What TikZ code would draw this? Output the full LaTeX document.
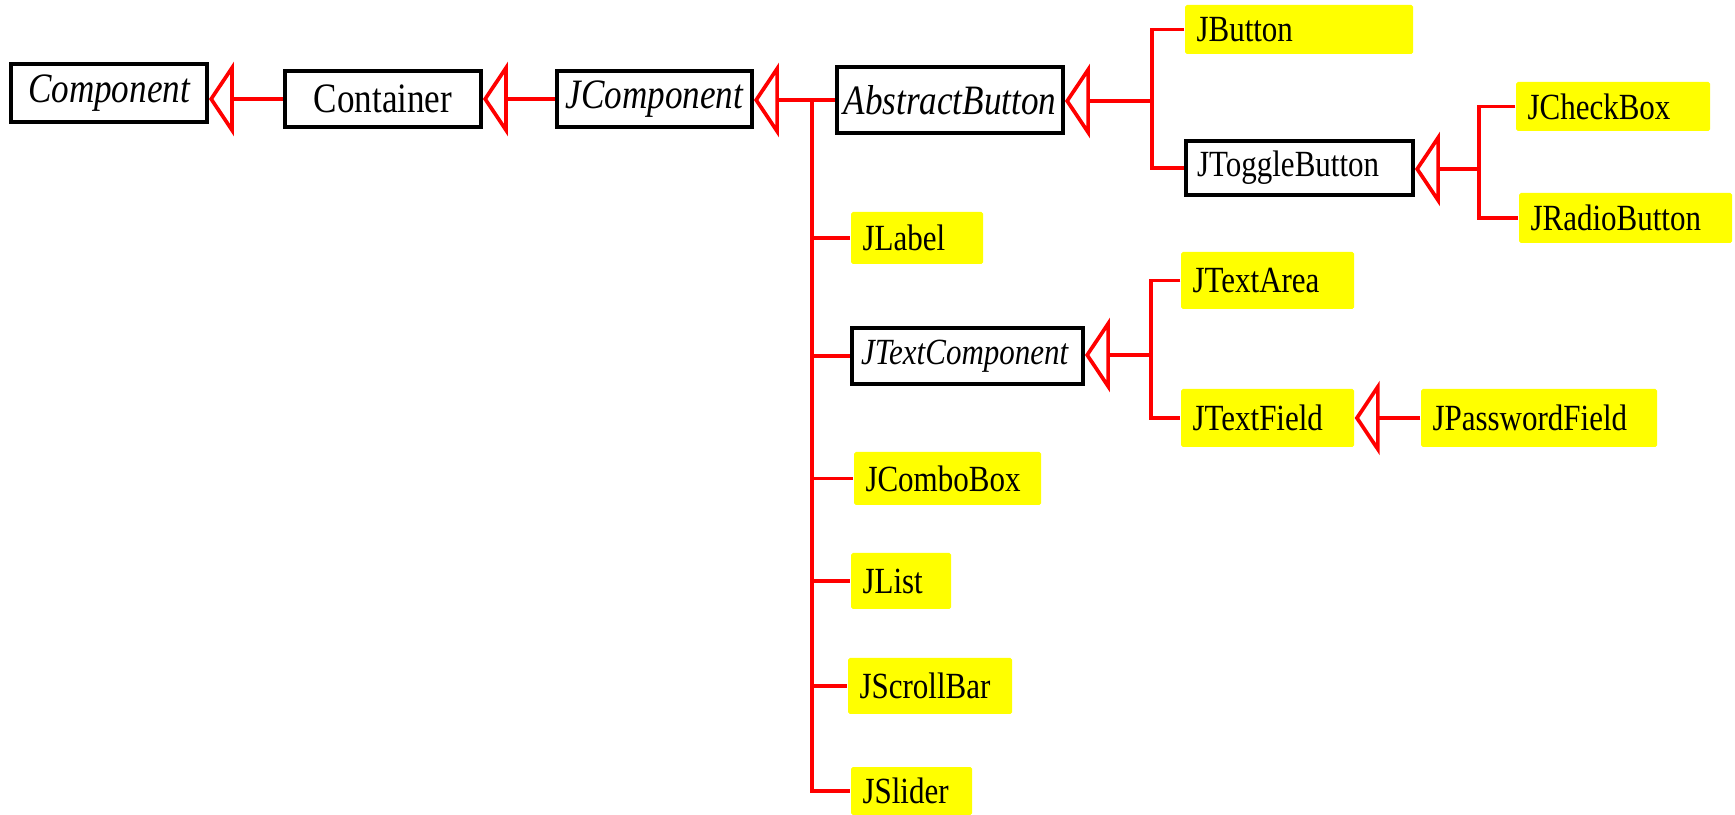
\documentclass[tikz,border=0pt]{standalone}
\usepackage{fontspec}
\setmainfont{Liberation Serif}[FakeStretch=0.84]
\usetikzlibrary{arrows.meta}

\definecolor{clsyellow}{RGB}{255,255,0}
\definecolor{clsred}{RGB}{255,0,0}
\newcommand{\bigcls}{\fontsize{11.9}{14}\selectfont}
\newcommand{\smallcls}{\fontsize{10.5}{12.6}\selectfont}

\tikzset{
  abstract/.style={rectangle, draw=black, line width=1.1pt, fill=white,
    inner xsep=0.11cm, inner ysep=0pt, align=left, font=\smallcls},
  topcls/.style={abstract, inner xsep=0.03cm, align=center, font=\bigcls},
  concrete/.style={rectangle, fill=clsyellow, rounded corners=0.5pt,
    inner xsep=0.115cm, inner ysep=0pt, align=left, font=\smallcls},
  link/.style={draw=clsred, line width=1.05pt},
  inherit/.style={link, -{Triangle[open, length=0.25cm, width=0.74cm]}},
}

\begin{document}
\begin{tikzpicture}
\useasboundingbox (0,0) rectangle (17.35,-8.15);

% top row
\node[topcls, text width=1.90cm, minimum height=0.58cm] (Component) at (1.09,-0.93) {\itshape Component};
\node[topcls, text width=1.90cm, minimum height=0.56cm] (Container) at (3.83,-0.99) {Container};
\node[topcls, text width=1.89cm, minimum height=0.56cm] (JComponent) at (6.545,-0.99) {\itshape JComponent};
\node[topcls, text width=2.20cm, minimum height=0.66cm] (AbstractButton) at (9.50,-1.00) {\itshape AbstractButton};

% buttons
\node[concrete, text width=2.05cm, minimum height=0.49cm] (JButton) at (12.99,-0.295) {JButton};
\node[abstract, text width=2.05cm, minimum height=0.54cm] (JToggleButton) at (12.995,-1.68) {JToggleButton};
\node[concrete, text width=1.71cm, minimum height=0.49cm] (JCheckBox) at (16.13,-1.065) {JCheckBox};
\node[concrete, text width=1.90cm, minimum height=0.50cm] (JRadioButton) at (16.255,-2.18) {JRadioButton};

% text classes
\node[abstract, inner xsep=0.09cm, text width=2.13cm, minimum height=0.56cm] (JTextComponent) at (9.675,-3.56) {\itshape JTextComponent};
\node[concrete, text width=1.50cm, minimum height=0.57cm] (JTextArea) at (12.675,-2.805) {JTextArea};
\node[concrete, text width=1.50cm, minimum height=0.58cm] (JTextField) at (12.675,-4.18) {JTextField};
\node[concrete, text width=2.13cm, minimum height=0.58cm] (JPasswordField) at (15.39,-4.18) {JPasswordField};

% other components
\node[concrete, text width=1.09cm, minimum height=0.52cm] (JLabel) at (9.17,-2.38) {JLabel};
\node[concrete, text width=1.64cm, minimum height=0.53cm] (JComboBox) at (9.475,-4.785) {JComboBox};
\node[concrete, text width=0.77cm, minimum height=0.56cm] (JList) at (9.01,-5.81) {JList};
\node[concrete, text width=1.41cm, minimum height=0.56cm] (JScrollBar) at (9.30,-6.86) {JScrollBar};
\node[concrete, text width=0.98cm, minimum height=0.48cm] (JSlider) at (9.115,-7.91) {JSlider};

% branch points
\coordinate (jc) at (8.12,-1.01);
\coordinate (ab) at (11.52,-1.01);
\coordinate (tb) at (14.79,-1.69);
\coordinate (tc) at (11.51,-3.55);

\path[]
(Container.west) edge[inherit] (Container.west -| Component.east)
(JComponent.west) edge[inherit] (JComponent.west -| Container.east)
(AbstractButton.west) edge[inherit] (AbstractButton.west -| JComponent.east)
(ab) edge[inherit] (ab -| AbstractButton.east)
(tb) edge[inherit] (tb -| JToggleButton.east)
(tc) edge[inherit] (tc -| JTextComponent.east)
(JPasswordField.west) edge[inherit] (JTextField.east)
;

% trunk under JComponent
\draw[link] (jc) |- (JSlider.west);
\path[]
(jc |- JLabel.west) edge[link] (JLabel.west)
(jc |- JTextComponent.west) edge[link] (JTextComponent.west)
(jc |- JComboBox.west) edge[link] (JComboBox.west)
(jc |- JList.west) edge[link] (JList.west)
(jc |- JScrollBar.west) edge[link] (JScrollBar.west)
;

% brackets
\draw[link] (JButton.west) -| (ab) |- (JToggleButton.west);
\draw[link] (JCheckBox.west) -| (tb) |- (JRadioButton.west);
\draw[link] (JTextArea.west) -| (tc) |- (JTextField.west);
\end{tikzpicture}
\end{document}
